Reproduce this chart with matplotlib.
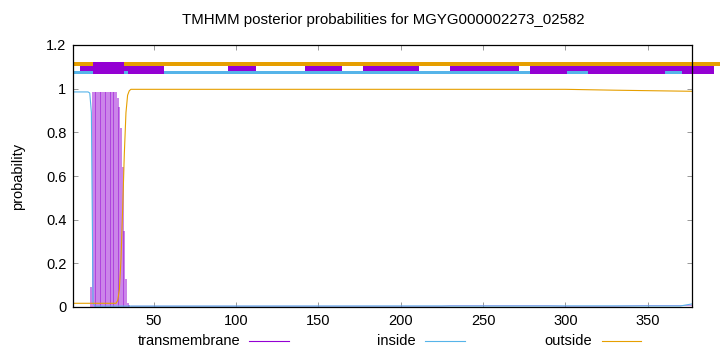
import matplotlib
matplotlib.use("Agg")
import matplotlib.pyplot as plt
from matplotlib.lines import Line2D

plt.rcParams['font.family'] = ['Liberation Sans', 'DejaVu Sans']

PURPLE = '#9400D3'
BLUE = '#56B4E9'
ORANGE = '#E69F00'

# ---- data ----
seq_len = 377
title = "TMHMM posterior probabilities for MGYG000002273_02582"

# transmembrane posterior (impulses), residues 11..35
tm_x = [11, 12, 13, 14, 15, 16, 17, 18, 19, 20, 21, 22, 23, 24, 25, 26, 27,
        28, 29, 30, 31, 32, 33, 34, 35]
tm_y = [0.0, 0.093, 0.985, 0.985, 0.985, 0.985, 0.985, 0.985, 0.985, 0.985,
        0.985, 0.985, 0.985, 0.985, 0.985, 0.985, 0.985,
        0.956, 0.918, 0.82, 0.64, 0.35, 0.128, 0.02, 0.01]
# faint transmembrane values along the bottom
tm_low_x = [36, 200, 225, 230, 290, 300, 330, 350, 377]
tm_low_y = [0.004, 0.004, 0.004, 0.006, 0.006, 0.004, 0.004, 0.007, 0.007]

# inside posterior
in_x = [1, 10, 11, 12, 13, 14, 370, 377]
in_y = [0.985, 0.985, 0.98, 0.89, 0.02, 0.004, 0.005, 0.014]

# outside posterior
out_x = [1, 27, 28, 29, 30, 31, 32, 33, 34, 35, 36, 300, 330, 377]
out_y = [0.017, 0.017, 0.03, 0.08, 0.22, 0.45, 0.70, 0.89, 0.97, 0.99, 0.997,
         0.997, 0.993, 0.988]

# top annotation bars (start, end) in residues
outside_bar = [(1, 395)]
inside_bar = [(1, 377)]
tm_bar = [(5.1, 56.1), (95.0, 112.0), (141.8, 164.1), (176.9, 210.9),
          (229.7, 272.0), (278.5, 390.4)]
tm_bar_low = [(34.1, 56.1), (278.5, 300.8), (313.6, 360.6), (370.7, 390.4)]
tm_bar_tall = [(12.8, 32.0)]

xticks = [50, 100, 150, 200, 250, 300, 350]
yticks = [0, 0.2, 0.4, 0.6, 0.8, 1.0, 1.2]
yticklabels = ["0", "0.2", "0.4", "0.6", "0.8", "1", "1.2"]
legend_labels = ["transmembrane", "inside", "outside"]

# ---- figure ----
fig = plt.figure(figsize=(7.2, 3.52), dpi=100)
ax = fig.add_axes([73.3 / 720, 1 - 307 / 352, (692 - 73.3) / 720, (307 - 45) / 352])


def bars(segs, y0, y1, color, z):
    ax.broken_barh([(a, b - a) for a, b in segs], (y0, y1 - y0),
                   facecolors=color, edgecolor='none', clip_on=False, zorder=z)


bars(outside_bar, 1.105, 1.124, ORANGE, 3)
bars(inside_bar, 1.069, 1.081, BLUE, 4)
bars(tm_bar, 1.081, 1.104, PURPLE, 5)
bars(tm_bar_low, 1.069, 1.081, PURPLE, 5)
bars(tm_bar_tall, 1.069, 1.121, PURPLE, 6)

ax.vlines(tm_x, 0, tm_y, colors=PURPLE, linewidth=1.25, alpha=0.55, zorder=2)
ax.plot(tm_low_x, tm_low_y, color=PURPLE, linewidth=0.6, alpha=0.5, zorder=2)
ax.plot(in_x, in_y, color=BLUE, linewidth=0.8, zorder=3)
ax.plot(out_x, out_y, color=ORANGE, linewidth=0.8, zorder=3)

ax.set_xlim(1, seq_len)
ax.set_ylim(0, 1.2)
ax.set_xticks(xticks)
ax.set_yticks(yticks)
ax.set_yticklabels(yticklabels)
ax.tick_params(direction='in', length=3.5, width=0.6, color='#888888',
               top=True, right=True, labelsize=10.5, pad=5, labelcolor='black')
for s in ax.spines.values():
    s.set_linewidth(0.9)
    s.set_color('black')
    s.set_zorder(10)

ax.set_ylabel("probability", fontsize=10.5, labelpad=15)
fig.text(383 / 720, 1 - 20 / 352, title, ha='center', va='center', fontsize=10.8)

# legend row (gnuplot style: text then line sample)
leg_text_right = [240, 416, 592]
leg_line = [(249, 289), (425, 465), (602, 641)]
leg_colors = [PURPLE, BLUE, ORANGE]
ly = 1 - 341 / 352
for lab, tx, (l0, l1), c in zip(legend_labels, leg_text_right, leg_line, leg_colors):
    fig.text(tx / 720, ly, lab, ha='right', va='center', fontsize=10.5)
    fig.add_artist(Line2D([l0 / 720, l1 / 720], [ly, ly], color=c, linewidth=0.8,
                          transform=fig.transFigure))

fig.savefig("out.png", dpi=100)
